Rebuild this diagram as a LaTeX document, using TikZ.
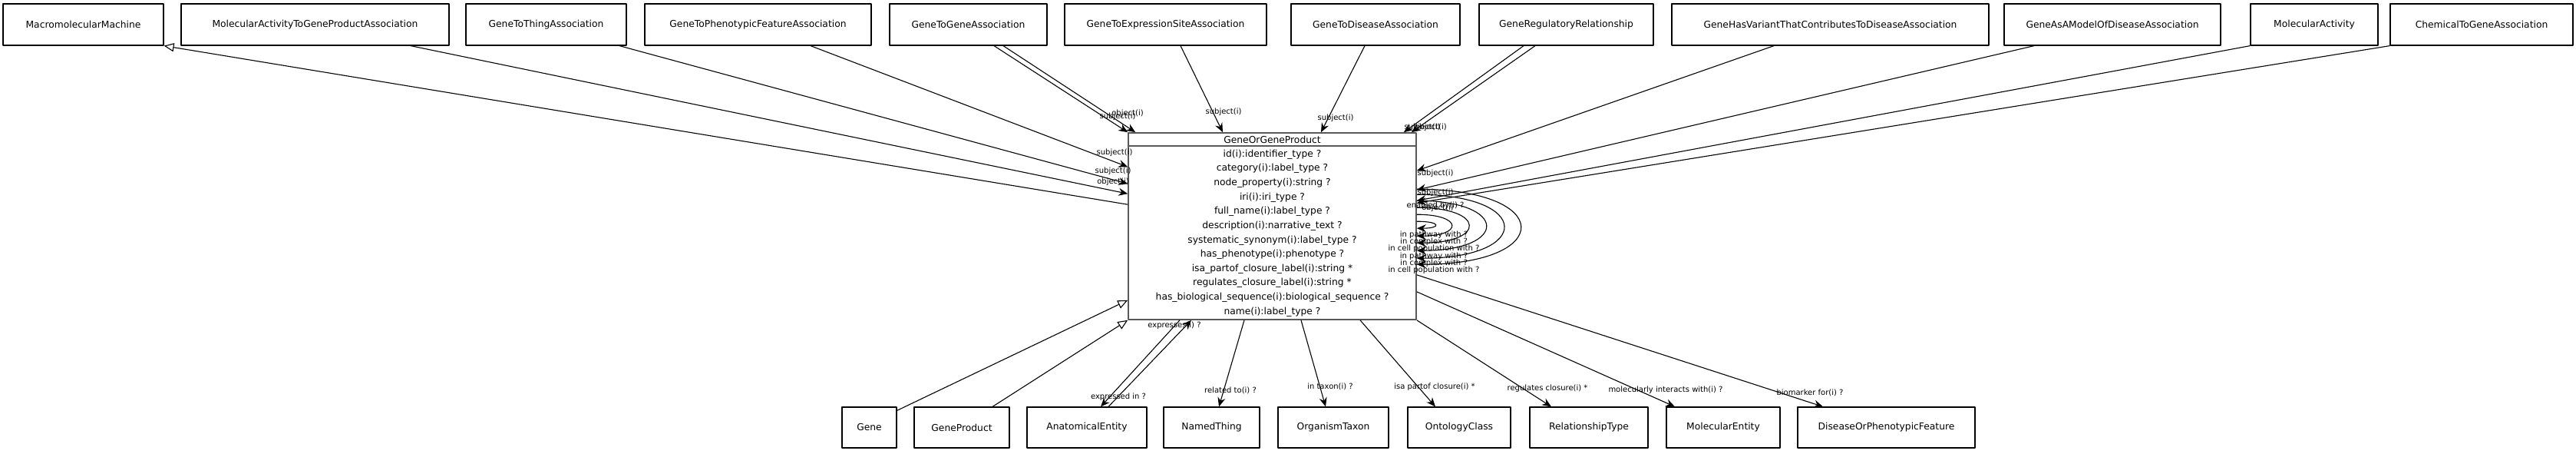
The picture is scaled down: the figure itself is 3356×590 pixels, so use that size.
\documentclass[tikz,border=0pt]{standalone}
\usepackage{fontspec}
\setmainfont{DejaVu Sans}
\usetikzlibrary{arrows.meta}
\begin{document}
\begin{tikzpicture}[x=1pt, y=-1pt, line join=round, >={Stealth[length=12pt,width=10pt,inset=4pt]},
	font=\fontsize{12.3}{14.8}\selectfont,
	cls/.style={draw, line width=1.2pt, inner sep=0pt, minimum height=54pt},
	lbl/.style={font=\fontsize{10}{12}\selectfont, inner sep=0pt},
	rel/.style={->, line width=1.1pt},
	isa/.style={-{Triangle[open,length=13pt,width=11pt]}, line width=1.1pt}]
	\useasboundingbox (0,0) rectangle (3356,590);
	% top row
	\node[cls, minimum width=209pt] (mm) at (108.5,32) {MacromolecularMachine};
	\node[cls, minimum width=349pt] (mag) at (410.5,32) {MolecularActivityToGeneProductAssociation};
	\node[cls, minimum width=209pt] (gtt) at (711.5,32) {GeneToThingAssociation};
	\node[cls, minimum width=295pt] (gtpf) at (987.5,32) {GeneToPhenotypicFeatureAssociation};
	\node[cls, minimum width=205pt] (gtg) at (1261.5,32) {GeneToGeneAssociation};
	\node[cls, minimum width=263pt] (gtes) at (1518.5,32) {GeneToExpressionSiteAssociation};
	\node[cls, minimum width=220pt] (gtd) at (1792,32) {GeneToDiseaseAssociation};
	\node[cls, minimum width=227pt] (grr) at (2040.5,32) {GeneRegulatoryRelationship};
	\node[cls, minimum width=413pt] (ghv) at (2384.5,32) {GeneHasVariantThatContributesToDiseaseAssociation};
	\node[cls, minimum width=282pt] (gam) at (2752,32) {GeneAsAModelOfDiseaseAssociation};
	\node[cls, minimum width=166pt] (ma) at (3015,32) {MolecularActivity};
	\node[cls, minimum width=238pt] (cga) at (3233,32) {ChemicalToGeneAssociation};
	% bottom row
	\node[cls, minimum width=71pt, minimum height=53pt] (gene) at (1132.5,556.5) {Gene};
	\node[cls, minimum width=124pt, minimum height=53pt] (gp) at (1253,556.5) {GeneProduct};
	\node[cls, minimum width=156pt, minimum height=53pt] (ae) at (1416,556.5) {AnatomicalEntity};
	\node[cls, minimum width=125pt, minimum height=53pt] (nt) at (1578.5,556.5) {NamedThing};
	\node[cls, minimum width=144pt, minimum height=53pt] (ot) at (1737,556.5) {OrganismTaxon};
	\node[cls, minimum width=134pt, minimum height=53pt] (oc) at (1901,556.5) {OntologyClass};
	\node[cls, minimum width=154pt, minimum height=53pt] (rt) at (2070,556.5) {RelationshipType};
	\node[cls, minimum width=148pt, minimum height=53pt] (me) at (2245,556.5) {MolecularEntity};
	\node[cls, minimum width=231pt, minimum height=53pt] (dpf) at (2457.5,556.5) {DiseaseOrPhenotypicFeature};
	% GeneOrGeneProduct
	\node[draw=black!65, line width=1.6pt, minimum width=375pt, minimum height=243pt] (gop) at (1657.5,294.5) {};
	\node (goptitle) at (1657.5,182) {GeneOrGeneProduct};
	\draw[black!65, line width=1.6pt] ([yshift=-18pt]gop.north west) -- ([yshift=-18pt]gop.north east);
	\node[align=center, font=\fontsize{12.3}{18.64}\selectfont] (gopattr) at (1657.5,303.5) {id(i):identifier\_type ?\\
		category(i):label\_type ?\\ node\_property(i):string ?\\ iri(i):iri\_type ?\\
		full\_name(i):label\_type ?\\ description(i):narrative\_text ?\\
		systematic\_synonym(i):label\_type ?\\ has\_phenotype(i):phenotype ?\\
		isa\_partof\_closure\_label(i):string *\\ regulates\_closure\_label(i):string *\\
		has\_biological\_sequence(i):biological\_sequence ?\\ name(i):label\_type ?};
	% labels
	\node[lbl] (lgtpf) at (1452,199) {subject(i)};
	\node[lbl] (lgtt) at (1450,223) {subject(i)};
	\node[lbl] (lmag) at (1450,237) {object(i)};
	\node[lbl] (lgtgs) at (1456,152) {subject(i)};
	\node[lbl] (lgtgo) at (1469,148) {object(i)};
	\node[lbl] (lgtes) at (1594,146) {subject(i)};
	\node[lbl] (lgtd) at (1740,154) {subject(i)};
	\node[lbl] (lgrrs) at (1853,166) {subject(i)};
	\node[lbl] (lgrro) at (1864,166) {object(i)};
	\node[lbl] (lghv) at (1870,226) {subject(i)};
	\node[lbl] (lgam) at (1870,251) {subject(i)};
	\node[lbl] (lma) at (1870,268) {enabled by(i) ?};
	\node[lbl] (lcga) at (1873,271) {object(i)};
	\node[lbl] (lexs) at (1530,424) {expresses(i) ?};
	\node[lbl] (lexi) at (1457,517) {expressed in ?};
	\node[lbl] (lnt) at (1603,508) {related to(i) ?};
	\node[lbl] (lot) at (1733,503) {in taxon(i) ?};
	\node[lbl] (loc) at (1869,504) {isa partof closure(i) *};
	\node[lbl] (lrt) at (2016,506) {regulates closure(i) *};
	\node[lbl] (lme) at (2170,508) {molecularly interacts with(i) ?};
	\node[lbl] (ldpf) at (2358,511) {biomarker for(i) ?};
	\foreach \y/\t [count=\i] in {306/in pathway with ?, 315/in complex with ?, 324/in cell population with ?,
		334/in pathway with ?, 343/in complex with ?, 352/in cell population with ?}
		\node[lbl] (lp\i) at (1868,\y) {\t};
	% connectors from the top
	\draw[isa] ([yshift=-94pt]gop.north west) -- (mm.south east);
	\draw[rel] ([xshift=124.5pt]mag.south) -- ([yshift=-80pt]gop.north west);
	\draw[rel] ([xshift=95.5pt]gtt.south) -- ([yshift=-67pt]gop.north west);
	\draw[rel] ([xshift=68.5pt]gtpf.south) -- ([yshift=-45pt]gop.north west);
	\draw[rel] ([xshift=33.5pt]gtg.south) -- (gop.north west);
	\draw[rel] ([xshift=45.5pt]gtg.south) -- ([xshift=10pt]gop.north west);
	\draw[rel] ([xshift=19.5pt]gtes.south) -- ([xshift=-64.5pt]gop.north);
	\draw[rel] ([xshift=-14pt]gtd.south) -- ([xshift=63.5pt]gop.north);
	\draw[rel] ([xshift=-55.5pt]grr.south) -- ([xshift=-17pt]gop.north east);
	\draw[rel] ([xshift=-40.5pt]grr.south) -- ([xshift=-7pt]gop.north east);
	\draw[rel] ([xshift=-73.5pt]ghv.south) -- ([yshift=-50pt]gop.north east);
	\draw[rel] ([xshift=-102pt]gam.south) -- ([yshift=-75pt]gop.north east);
	\draw[rel] (ma.south west) -- ([yshift=-89pt]gop.north east);
	\draw[rel] (cga.south west) -- ([yshift=-92pt]gop.north east);
	% self loops
	\foreach \s/\e/\w in {116pt/125pt/32, 107pt/135pt/60, 98pt/144pt/90, 89pt/154pt/120, 81pt/164pt/151, 74pt/172pt/180}
		\draw[rel] ([yshift=-\s]gop.north east) .. controls +(\w,0) and +(\w,0) .. ([yshift=-\e]gop.north east);
	% connectors to the bottom
	\draw[isa] ([yshift=-5pt]gene.north east) -- ([yshift=26pt]gop.south west);
	\draw[isa] ([xshift=40pt]gp.north) -- (gop.south west);
	\draw[rel] ([xshift=-120.5pt]gop.south) -- ([xshift=18pt]ae.north);
	\draw[rel] ([xshift=28pt]ae.north) -- ([xshift=-105.5pt]gop.south);
	\draw[rel] ([xshift=-36.5pt]gop.south) -- ([xshift=9.5pt]nt.north);
	\draw[rel] ([xshift=37.5pt]gop.south) -- ([xshift=-10pt]ot.north);
	\draw[rel] ([xshift=114.5pt]gop.south) -- ([xshift=-31pt]oc.north);
	\draw[rel] (gop.south east) -- ([xshift=-49pt]rt.north);
	\draw[rel] ([yshift=37pt]gop.south east) -- ([xshift=-63pt]me.north);
	\draw[rel] ([yshift=59pt]gop.south east) -- ([xshift=-82.5pt]dpf.north);
\end{tikzpicture}
\end{document}
